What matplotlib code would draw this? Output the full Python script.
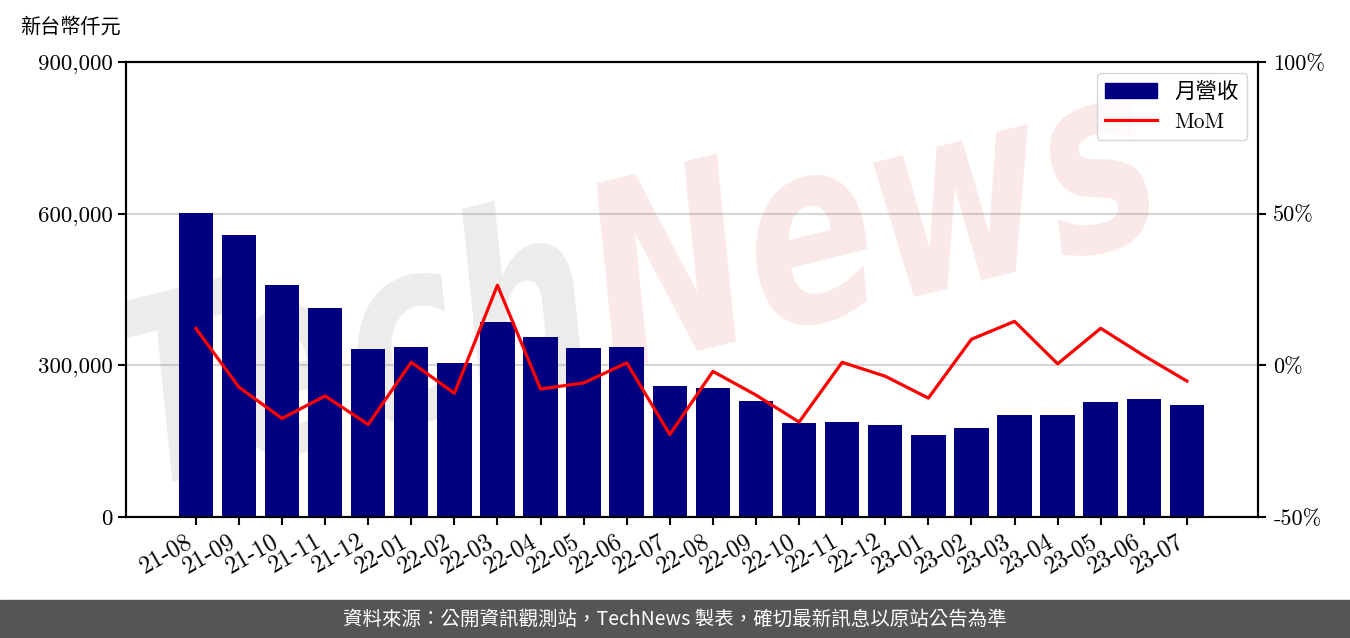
import matplotlib

matplotlib.use("Agg")
import matplotlib.pyplot as plt  # noqa: E402
import numpy as np  # noqa: E402
from matplotlib.font_manager import FontProperties  # noqa: E402
from matplotlib.lines import Line2D  # noqa: E402
from matplotlib.patches import PathPatch, Patch, Rectangle  # noqa: E402
from matplotlib.textpath import TextPath  # noqa: E402
from matplotlib.ticker import FuncFormatter  # noqa: E402
from matplotlib.transforms import Affine2D  # noqa: E402

# monthly revenue (新台幣仟元) and month-over-month change (%)
MONTHS = [
    "21-08", "21-09", "21-10", "21-11", "21-12",
    "22-01", "22-02", "22-03", "22-04", "22-05", "22-06",
    "22-07", "22-08", "22-09", "22-10", "22-11", "22-12",
    "23-01", "23-02", "23-03", "23-04", "23-05", "23-06", "23-07",
]
REVENUE = [
    601000, 558000, 459000, 413000, 332000,
    336000, 305000, 386000, 356000, 334000, 336000,
    259000, 255000, 229000, 186000, 188000, 182000,
    162000, 176000, 202000, 202000, 227000, 233000, 221000,
]
MOM = [
    12.2, -7.2, -17.5, -10.1, -19.5,
    1.0, -9.2, 26.4, -7.8, -5.8, 0.8,
    -22.8, -2.0, -9.8, -18.7, 1.0, -3.6,
    -10.8, 8.6, 14.5, 0.5, 12.2, 3.2, -5.2,
]

LEFT_TICKS = [0, 300000, 600000, 900000]
RIGHT_TICKS = [-50, 0, 50, 100]

SERIF = ["cmr10", "Noto Sans CJK TC"]
CJK = ["Noto Sans CJK TC", "DejaVu Sans"]

BAR_COLOR = "navy"
LINE_COLOR = "red"

W, H = 1350, 638

fig = plt.figure(figsize=(W / 100, H / 100), dpi=100)
ax = fig.add_axes([126 / W, 1 - 517 / H, (1258 - 126) / W, (517 - 62) / H])

x = np.arange(len(MONTHS))
ax.bar(x, REVENUE, width=0.8, color=BAR_COLOR, zorder=2)
ax.set_xlim(-1.62, len(MONTHS) - 1 + 1.65)
ax.set_ylim(LEFT_TICKS[0], LEFT_TICKS[-1])
ax.set_yticks(LEFT_TICKS)
ax.yaxis.set_major_formatter(FuncFormatter(lambda v, _: f"{int(v):,}"))
ax.grid(axis="y", color="#d6d6d6", lw=1.5, zorder=0.5)
ax.set_axisbelow(True)
ax.set_xticks(x)
ax.set_xticklabels(MONTHS, rotation=30, ha="right")

ax2 = ax.twinx()
ax2.plot(x, MOM, color=LINE_COLOR, lw=2.3, zorder=3)
ax2.set_ylim(RIGHT_TICKS[0], RIGHT_TICKS[-1])
ax2.set_yticks(RIGHT_TICKS)
ax2.yaxis.set_major_formatter(FuncFormatter(lambda v, _: f"{int(v)}%"))

for a in (ax, ax2):
    for sp in a.spines.values():
        sp.set_linewidth(1.5)
    a.tick_params(width=1.5, length=6, labelsize=16)
    for lab in a.get_xticklabels() + a.get_yticklabels():
        lab.set_family(SERIF)
ax.tick_params(axis="y", labelsize=16.5)
ax.tick_params(axis="x", labelsize=17.5)
ax2.tick_params(axis="y", pad=5)

# watermark, under the bars
wm_font = FontProperties(family="DejaVu Sans", weight="bold", style="oblique")
em = 190
tech = TextPath((0, 0), "Tech", size=em, prop=wm_font)
news = TextPath((tech.get_extents().x1 + 0.08 * em, 0), "News", size=em, prop=wm_font)
wm_tr = (
    Affine2D().scale(1 / 100, 1.35 / 100).rotate_deg(14).translate(140 / 100, (H - 490) / 100)
    + fig.dpi_scale_trans
)
ax.add_artist(PathPatch(tech, transform=wm_tr, fc="#808080", ec="none", alpha=0.15, zorder=1))
ax.add_artist(PathPatch(news, transform=wm_tr, fc="#dc2832", ec="none", alpha=0.1, zorder=1))

handles = [
    Patch(color=BAR_COLOR, label="月營收"),
    Line2D([], [], color=LINE_COLOR, lw=2.3, label="MoM"),
]
ax2.legend(handles=handles, loc="upper right", prop={"family": SERIF, "size": 15.5},
           handlelength=2.4)

fig.text(20 / W, 1 - 27 / H, "新台幣仟元", family=CJK, fontsize=14.5, ha="left", va="center")

# footer band
fig.add_artist(Rectangle((0, 0), 1, 38 / H, transform=fig.transFigure, color="#555555", zorder=0))
fig.text(0.5, 19 / H, "資料來源：公開資訊觀測站，TechNews 製表，確切最新訊息以原站公告為準",
         family=CJK, fontsize=14, color="white", ha="center", va="center")

fig.savefig("out.png", dpi=100)
